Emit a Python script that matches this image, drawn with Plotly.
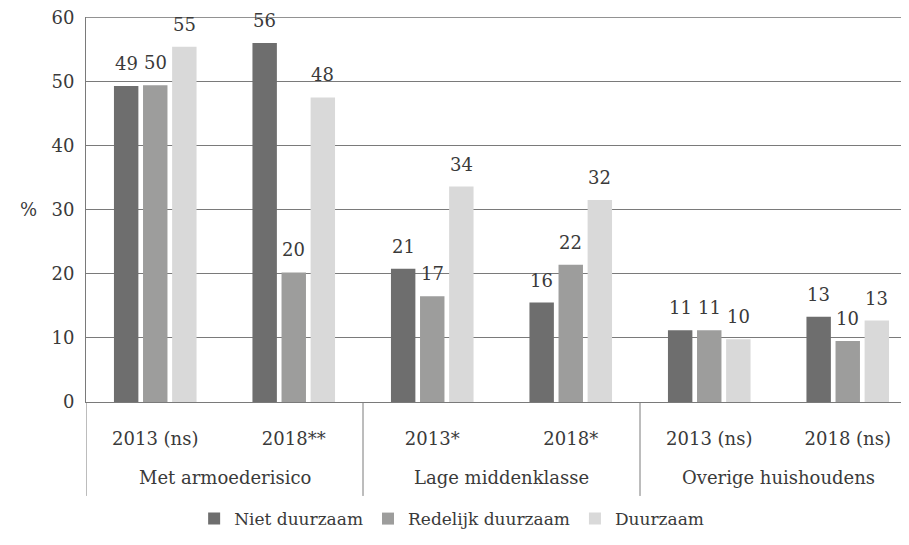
import plotly.graph_objects as go

groups = ["Met armoederisico", "Lage middenklasse", "Overige huishoudens"]
years = ["2013 (ns)", "2018**", "2013*", "2018*", "2013 (ns)", "2018 (ns)"]
series = ["Niet duurzaam", "Redelijk duurzaam", "Duurzaam"]
niet = [49.3, 56.0, 20.8, 15.5, 11.2, 13.3]
redelijk = [49.4, 20.2, 16.5, 21.4, 11.2, 9.5]
duurzaam = [55.4, 47.5, 33.6, 31.5, 9.8, 12.7]
labels_niet = [49, 56, 21, 16, 11, 13]
labels_redelijk = [50, 20, 17, 22, 11, 10]
labels_duurzaam = [55, 48, 34, 32, 10, 13]
y_ticks = [0, 10, 20, 30, 40, 50, 60]
colors = ["#6e6e6e", "#9d9d9c", "#d9d9d9"]

FONT = "DejaVu Serif"
TXT = "#3a3a3a"
GRID = "#7a7a7a"

BARGAP = 0.37
BARGROUPGAP = 0.16

xs = list(range(len(years)))
fig = go.Figure()
all_vals = [niet, redelijk, duurzaam]
all_labels = [labels_niet, labels_redelijk, labels_duurzaam]
for name, vals, col in zip(series, all_vals, colors):
    fig.add_trace(go.Bar(x=xs, y=vals, name=name, marker_color=col,
                         marker_line_width=0))

slot = (1 - BARGAP) / len(series)
annotations = []
for j, (vals, labs) in enumerate(zip(all_vals, all_labels)):
    off = (j - (len(series) - 1) / 2) * slot
    for i, (v, l) in enumerate(zip(vals, labs)):
        annotations.append(dict(x=i + off, y=v, xref="x", yref="y", text=str(l),
                                showarrow=False, yanchor="bottom", yshift=10,
                                font=dict(family=FONT, size=18, color=TXT)))

# group labels
n_per = len(years) // len(groups)
for g, name in enumerate(groups):
    annotations.append(dict(x=g * n_per + (n_per - 1) / 2, y=-0.197, xref="x", yref="paper",
                            text=name, showarrow=False, yanchor="middle",
                            font=dict(family=FONT, size=18, color=TXT)))
annotations.append(dict(x=-0.082, y=30, xref="paper", yref="y", text="%",
                        showarrow=False, font=dict(family=FONT, size=18, color=TXT)))

shapes = []
for g in range(len(groups)):
    xb = g * n_per - 0.5
    shapes.append(dict(type="line", xref="x", yref="paper", x0=xb, x1=xb, y0=0, y1=-0.244,
                       line=dict(color=GRID, width=1)))
# top gridline (plotly drops the gridline at the very edge of the range)
shapes.append(dict(type="line", xref="paper", yref="y", x0=0, x1=1,
                   y0=max(y_ticks), y1=max(y_ticks), line=dict(color=GRID, width=1),
                   layer="below"))

fig.update_layout(
    width=909, height=545,
    margin=dict(l=78, r=0, t=9, b=151),
    paper_bgcolor="white", plot_bgcolor="white",
    barmode="group", bargap=BARGAP, bargroupgap=BARGROUPGAP,
    font=dict(family=FONT, size=18, color=TXT),
    annotations=annotations, shapes=shapes,
    legend=dict(orientation="h", x=0.44, xanchor="center", y=-0.304, yanchor="middle",
                font=dict(family=FONT, size=17, color=TXT), traceorder="normal"),
    xaxis=dict(range=[-0.5, len(years) - 0.5], tickvals=xs, ticktext=years,
               showline=True, linecolor=GRID, linewidth=1, showgrid=False,
               zeroline=False, ticks="", ticklabelstandoff=20,
               tickfont=dict(family=FONT, size=18, color=TXT)),
    yaxis=dict(range=[0, 60.05], tickvals=y_ticks, showline=True, linecolor=GRID, linewidth=1,
               showgrid=True, gridcolor=GRID, gridwidth=1, zeroline=False,
               ticks="", ticklabelstandoff=7, ticklabeloverflow="allow",
               tickfont=dict(family=FONT, size=18, color=TXT)),
)

fig.write_html("out.html")
